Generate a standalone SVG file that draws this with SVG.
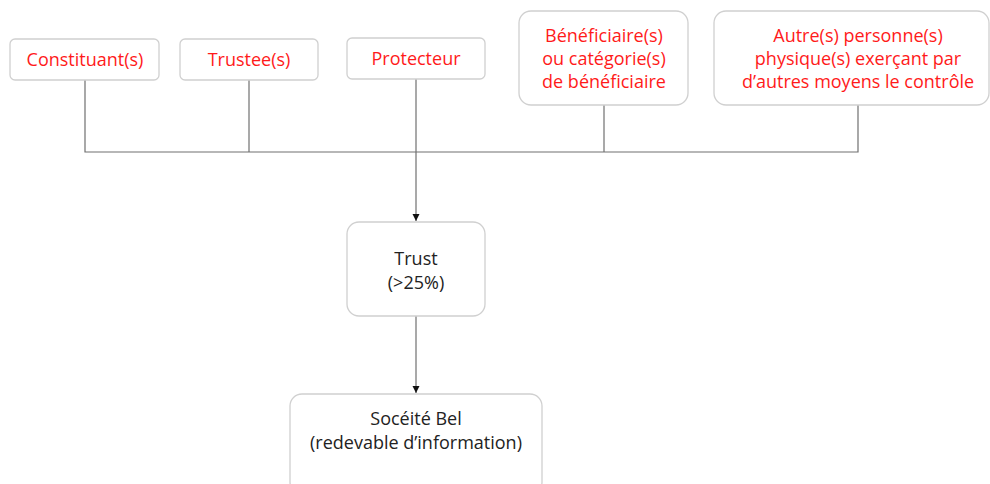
<svg xmlns="http://www.w3.org/2000/svg" width="990" height="484" viewBox="0 0 990 484">
<defs>
<style>
.box{fill:#fff;stroke:#d0d0d0;stroke-width:1.3}
.red{fill:#ff1a1a;font-family:"Open Sans","Noto Sans",sans-serif;font-size:18px;text-anchor:middle}
.blk{fill:#222;font-family:"Open Sans","Noto Sans",sans-serif;font-size:18px;text-anchor:middle}
.con{fill:none;stroke:#707070;stroke-width:1.2}
</style>
<marker id="arr" markerWidth="8" markerHeight="8" refX="7" refY="4" orient="auto" markerUnits="userSpaceOnUse">
<path d="M0,0.5 L7,4 L0,7.5 Z" fill="#111"/>
</marker>
</defs>
<rect width="990" height="484" fill="#fff"/>
<g id="connectors">
<path class="con" d="M85,80 V152 H858 V105"/>
<path class="con" d="M249,80 V152"/>
<path class="con" d="M604,105 V152"/>
<path class="con" d="M416,79 V221" marker-end="url(#arr)"/>
<path class="con" d="M416,316 V393" marker-end="url(#arr)"/>
</g>
<g id="constituants">
<rect class="box" x="10" y="39" width="149" height="41" rx="5"/>
<text class="red" x="85" y="66">Constituant(s)</text>
</g>
<g id="trustees">
<rect class="box" x="180" y="39" width="138" height="41" rx="5"/>
<text class="red" x="249" y="66">Trustee(s)</text>
</g>
<g id="protecteur">
<rect class="box" x="347" y="38" width="138" height="41" rx="5"/>
<text class="red" x="416" y="65">Protecteur</text>
</g>
<g id="beneficiaires">
<rect class="box" x="519" y="11" width="169" height="94" rx="12"/>
<text class="red" x="604" y="42">Bénéficiaire(s)</text>
<text class="red" x="604" y="65">ou catégorie(s)</text>
<text class="red" x="604" y="88">de bénéficiaire</text>
</g>
<g id="autres">
<rect class="box" x="714" y="11" width="275" height="94" rx="12"/>
<text class="red" x="858" y="42">Autre(s) personne(s)</text>
<text class="red" x="858" y="65">physique(s) exerçant par</text>
<text class="red" x="858" y="88">d’autres moyens le contrôle</text>
</g>
<g id="trust">
<rect class="box" x="347" y="222" width="138" height="94" rx="12"/>
<text class="blk" x="416" y="265">Trust</text>
<text class="blk" x="416" y="289">(&gt;25%)</text>
</g>
<g id="societe">
<rect class="box" x="290" y="394" width="252" height="100" rx="12"/>
<text class="blk" x="416" y="425">Socéité Bel</text>
<text class="blk" x="416" y="449">(redevable d’information)</text>
</g>
</svg>
